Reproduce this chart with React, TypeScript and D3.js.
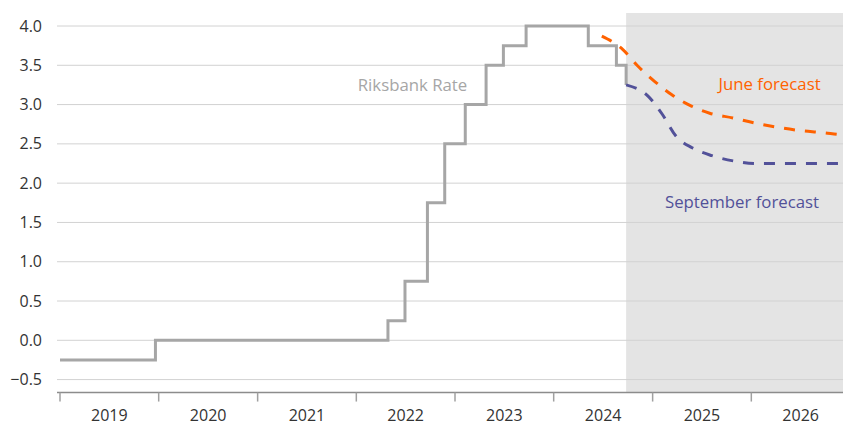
import React from "react";
import * as d3 from "d3";

const W = 843;
const H = 426;

const yTicks = [-0.5, 0, 0.5, 1, 1.5, 2, 2.5, 3, 3.5, 4];
const yearLabels = ["2019", "2020", "2021", "2022", "2023", "2024", "2025", "2026"];

// Riksbank policy rate (step changes)
const rateDates = [
  "2019-01-01", "2019-12-20", "2022-04-28", "2022-06-30", "2022-09-21",
  "2022-11-24", "2023-02-08", "2023-04-26", "2023-06-29", "2023-09-21",
  "2024-05-08", "2024-08-20", "2024-09-25",
];
const rateValues = [-0.25, 0, 0.25, 0.75, 1.75, 2.5, 3.0, 3.5, 3.75, 4.0, 3.75, 3.5, 3.25];

// June forecast
const juneDates = [
  "2024-06-27", "2024-09-13", "2024-11-07", "2025-01-10", "2025-03-13",
  "2025-05-19", "2025-07-31", "2025-10-25", "2026-01-22", "2026-04-09",
  "2026-06-30", "2026-09-19", "2026-12-06", "2027-01-01",
];
const juneValues = [3.87, 3.7, 3.49, 3.29, 3.125, 2.99, 2.89, 2.83, 2.76, 2.71, 2.67, 2.645, 2.615, 2.61];

// September forecast
const sepDates = [
  "2024-09-25", "2024-12-14", "2025-02-05", "2025-03-28", "2025-05-27",
  "2025-08-08", "2025-11-01", "2026-01-22", "2027-01-01",
];
const sepValues = [3.25, 3.11, 2.88, 2.6, 2.45, 2.35, 2.28, 2.25, 2.25];

const forecastStart = "2024-09-25";

const parse = d3.timeParse("%Y-%m-%d");

export default function App() {
  const x = d3
    .scaleTime()
    .domain([new Date(2019, 0, 1), new Date(2027, 0, 1)])
    .range([60, 850]);
  const y = d3.scaleLinear().domain([0, 4]).range([340.3, 26]);

  const gridX0 = 57;
  const gridX1 = W;
  const axisY = y(-0.665);

  const rateData = rateDates.map((d, i) => ({ d: parse(d) as Date, v: rateValues[i] }));
  const juneData = juneDates.map((d, i) => ({ d: parse(d) as Date, v: juneValues[i] }));
  const sepData = sepDates.map((d, i) => ({ d: parse(d) as Date, v: sepValues[i] }));

  const stepLine = d3
    .line<{ d: Date; v: number }>()
    .x((p) => x(p.d))
    .y((p) => y(p.v))
    .curve(d3.curveStepAfter);
  const smoothLine = d3
    .line<{ d: Date; v: number }>()
    .x((p) => x(p.d))
    .y((p) => y(p.v))
    .curve(d3.curveMonotoneX);

  const yearTicks = yearLabels.map((s) => new Date(+s, 0, 1));
  const fx = x(parse(forecastStart) as Date);
  const font = "'Open Sans', 'Noto Sans', sans-serif";

  return (
    <svg
      width={W}
      height={H}
      style={{ position: "absolute", left: 0, top: 0, background: "#fff" }}
      fontFamily={font}
    >
      <defs>
        <clipPath id="plot">
          <rect x={0} y={0} width={W} height={axisY} />
        </clipPath>
      </defs>
      <rect x={fx} y={13} width={W - fx} height={axisY - 13} fill="#e4e4e4" />
      {yTicks.map((t) => (
        <g key={t}>
          <line x1={gridX0} x2={gridX1} y1={y(t)} y2={y(t)} stroke="#d2d2d2" strokeWidth={1} />
          <text x={42} y={y(t) + 5.5} textAnchor="end" fontSize={16} fill="#333">
            {d3.format(".1f")(t)}
          </text>
        </g>
      ))}
      <line x1={gridX0} x2={gridX1} y1={axisY} y2={axisY} stroke="#8c8c8c" strokeWidth={1.5} />
      {yearTicks.map((d, i) => (
        <g key={i}>
          <line x1={x(d)} x2={x(d)} y1={axisY} y2={axisY + 9} stroke="#a0a0a0" strokeWidth={1.5} />
          <text
            x={(x(d) + x(new Date(d.getFullYear() + 1, 0, 1))) / 2}
            y={421}
            textAnchor="middle"
            fontSize={16}
            fill="#333"
          >
            {yearLabels[i]}
          </text>
        </g>
      ))}
      <g clipPath="url(#plot)">
        <path d={stepLine(rateData) || ""} fill="none" stroke="#a6a6a6" strokeWidth={3} />
        <path
          d={smoothLine(juneData) || ""}
          fill="none"
          stroke="#ff6200"
          strokeWidth={3}
          strokeDasharray="11 10"
        />
        <path
          d={smoothLine(sepData) || ""}
          fill="none"
          stroke="#525199"
          strokeWidth={3}
          strokeDasharray="11 10"
        />
      </g>
      <text x={412.5} y={91} textAnchor="middle" fontSize={16.8} fill="#a6a6a6">
        Riksbank Rate
      </text>
      <text x={769.5} y={90} textAnchor="middle" fontSize={16.8} fill="#ff6200">
        June forecast
      </text>
      <text x={742} y={208} textAnchor="middle" fontSize={16.8} fill="#525199">
        September forecast
      </text>
    </svg>
  );
}
